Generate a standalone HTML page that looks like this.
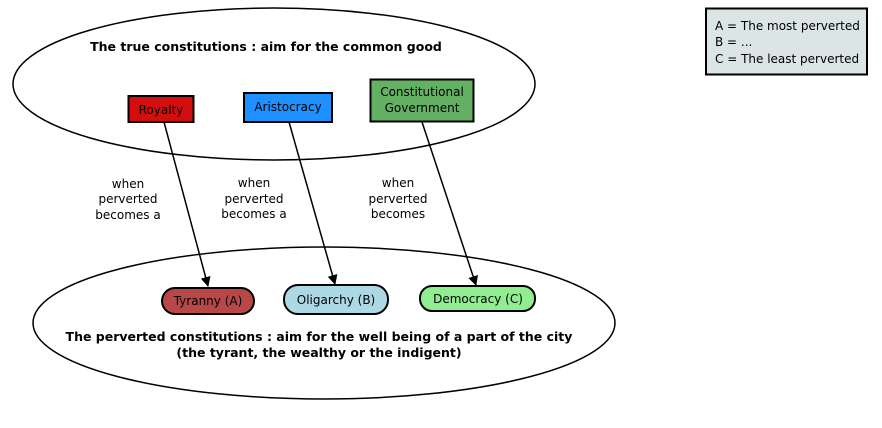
<!DOCTYPE html>
<html><head><meta charset="utf-8"><style>
html,body{margin:0;padding:0;background:#fff;}
svg{display:block;font-family:"DejaVu Sans","Liberation Sans",sans-serif;}
</style></head><body>
<svg width="882" height="428" viewBox="0 0 882 428" xmlns="http://www.w3.org/2000/svg">
<defs><marker id="a" markerWidth="10" markerHeight="10" refX="9" refY="5" orient="auto" markerUnits="userSpaceOnUse"><path d="M0,0 L10,5 L0,10 z" fill="#000"/></marker></defs>
<ellipse cx="274" cy="84" rx="261" ry="76" fill="#fff" stroke="#000" stroke-width="1.5"/>
<ellipse cx="324" cy="323" rx="291" ry="76" fill="#fff" stroke="#000" stroke-width="1.5"/>
<text x="266" y="51" font-size="12.5" font-weight="bold" text-anchor="middle">The true constitutions : aim for the common good</text>
<text x="319" y="341" font-size="12.5" font-weight="bold" text-anchor="middle">The perverted constitutions : aim for the well being of a part of the city</text>
<text x="319" y="357" font-size="12.5" font-weight="bold" text-anchor="middle">(the tyrant, the wealthy or the indigent)</text>
<rect x="128.5" y="96" width="65" height="26" fill="#d40e0e" stroke="#000" stroke-width="2"/>
<text x="161" y="114" font-size="12" text-anchor="middle">Royalty</text>
<rect x="244" y="93" width="88" height="29" fill="#1e90ff" stroke="#000" stroke-width="2"/>
<text x="288" y="111" font-size="12" text-anchor="middle">Aristocracy</text>
<rect x="370.5" y="79.5" width="103" height="42" fill="#64b164" stroke="#000" stroke-width="2"/>
<text x="422" y="96" font-size="12" text-anchor="middle">Constitutional</text>
<text x="422" y="112" font-size="12" text-anchor="middle">Government</text>
<line x1="164" y1="122" x2="208" y2="286" stroke="#000" stroke-width="1.5" marker-end="url(#a)"/>
<line x1="289" y1="122" x2="335" y2="284" stroke="#000" stroke-width="1.5" marker-end="url(#a)"/>
<line x1="422" y1="122" x2="476" y2="285" stroke="#000" stroke-width="1.5" marker-end="url(#a)"/>
<g font-size="12" text-anchor="middle">
<text x="128" y="188">when</text><text x="128" y="203">perverted</text><text x="128" y="219">becomes a</text>
<text x="254" y="187">when</text><text x="254" y="203">perverted</text><text x="254" y="218">becomes a</text>
<text x="398" y="187">when</text><text x="398" y="203">perverted</text><text x="398" y="218">becomes</text>
</g>
<rect x="162" y="288" width="92" height="26" rx="13" fill="#b84848" stroke="#000" stroke-width="2"/>
<text x="208" y="305" font-size="12" text-anchor="middle">Tyranny (A)</text>
<rect x="284" y="285" width="104" height="29" rx="14" fill="#add8e6" stroke="#000" stroke-width="2"/>
<text x="336" y="304" font-size="12" text-anchor="middle">Oligarchy (B)</text>
<rect x="420" y="286" width="115" height="25" rx="12" fill="#90ee90" stroke="#000" stroke-width="2"/>
<text x="478" y="303" font-size="12" text-anchor="middle">Democracy (C)</text>
<rect x="706" y="8.5" width="161" height="66" fill="#dbe5e5" stroke="#000" stroke-width="2"/>
<g font-size="12"><text x="715" y="30">A = The most perverted</text><text x="715" y="46">B = ...</text><text x="715" y="63">C = The least perverted</text></g>
</svg>
</body></html>
